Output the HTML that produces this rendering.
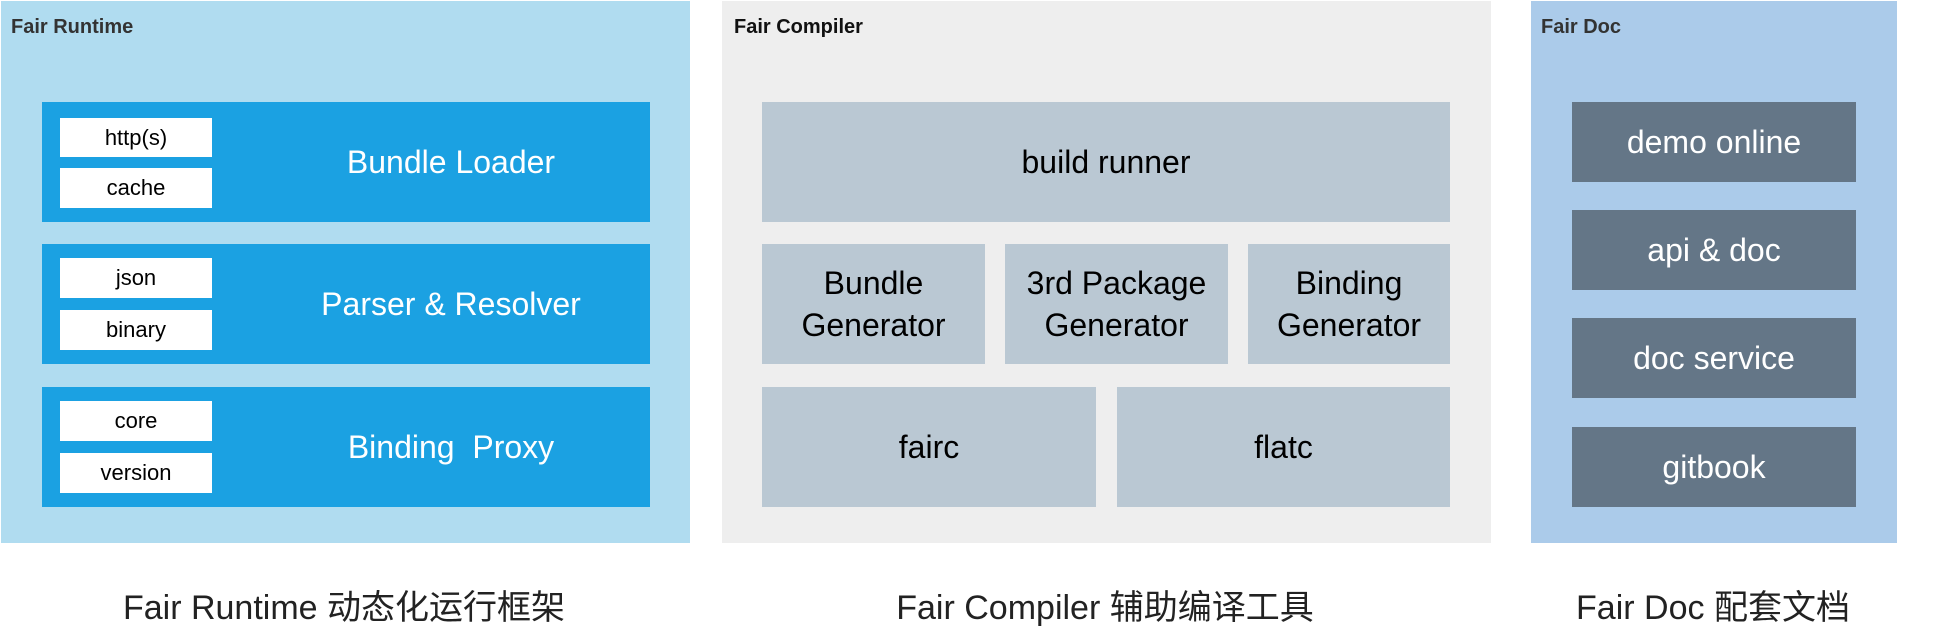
<!DOCTYPE html>
<html><head><meta charset="utf-8"><style>
body{margin:0;width:1942px;height:622px;background:#fff;position:relative;overflow:hidden;font-family:"Liberation Sans","Noto Sans CJK SC",sans-serif}
div{position:absolute;box-sizing:border-box}
.c{display:flex;align-items:center;justify-content:center;text-align:center}
.t{font-weight:bold;font-size:20px;color:#333}
.w{background:#fff;color:#000;font-size:22px}
.bar{background:#1ba1e2;color:#fff;font-size:32px}
.g{background:#bac8d3;color:#000;font-size:32px;line-height:42px}
.d{background:#647687;color:#fff;font-size:32px}
.cap{font-size:34px;color:#222;top:580px;height:48px;white-space:nowrap}
</style></head><body>
<div style="left:1px;top:1px;width:689px;height:542px;background:#b0dcf0"></div>
<div class="t" style="left:11px;top:16px">Fair Runtime</div>
<div class="bar c" style="left:42px;top:102px;width:608px;height:120px;padding-left:210px">Bundle Loader</div>
<div class="bar c" style="left:42px;top:244px;width:608px;height:120px;padding-left:210px">Parser &amp; Resolver</div>
<div class="bar c" style="left:42px;top:387px;width:608px;height:120px;padding-left:210px;white-space:pre">Binding  Proxy</div>
<div class="w c" style="left:60px;top:118px;width:152px;height:39px">http(s)</div>
<div class="w c" style="left:60px;top:168px;width:152px;height:40px">cache</div>
<div class="w c" style="left:60px;top:258px;width:152px;height:40px">json</div>
<div class="w c" style="left:60px;top:310px;width:152px;height:40px">binary</div>
<div class="w c" style="left:60px;top:401px;width:152px;height:40px">core</div>
<div class="w c" style="left:60px;top:453px;width:152px;height:40px">version</div>

<div style="left:722px;top:1px;width:769px;height:542px;background:#eeeeee"></div>
<div class="t" style="left:734px;top:16px;color:#111">Fair Compiler</div>
<div class="g c" style="left:762px;top:102px;width:688px;height:120px">build runner</div>
<div class="g c" style="left:762px;top:244px;width:223px;height:120px">Bundle<br>Generator</div>
<div class="g c" style="left:1005px;top:244px;width:223px;height:120px">3rd Package<br>Generator</div>
<div class="g c" style="left:1248px;top:244px;width:202px;height:120px">Binding<br>Generator</div>
<div class="g c" style="left:762px;top:387px;width:334px;height:120px">fairc</div>
<div class="g c" style="left:1117px;top:387px;width:333px;height:120px">flatc</div>

<div style="left:1531px;top:1px;width:366px;height:542px;background:#abcbea"></div>
<div class="t" style="left:1541px;top:16px">Fair Doc</div>
<div class="d c" style="left:1572px;top:102px;width:284px;height:80px">demo online</div>
<div class="d c" style="left:1572px;top:210px;width:284px;height:80px">api &amp; doc</div>
<div class="d c" style="left:1572px;top:318px;width:284px;height:80px">doc service</div>
<div class="d c" style="left:1572px;top:427px;width:284px;height:80px">gitbook</div>

<div class="cap c" style="left:44px;width:600px">Fair Runtime 动态化运行框架</div>
<div class="cap c" style="left:805px;width:600px">Fair Compiler 辅助编译工具</div>
<div class="cap c" style="left:1463px;width:500px">Fair Doc 配套文档</div>
</body></html>
